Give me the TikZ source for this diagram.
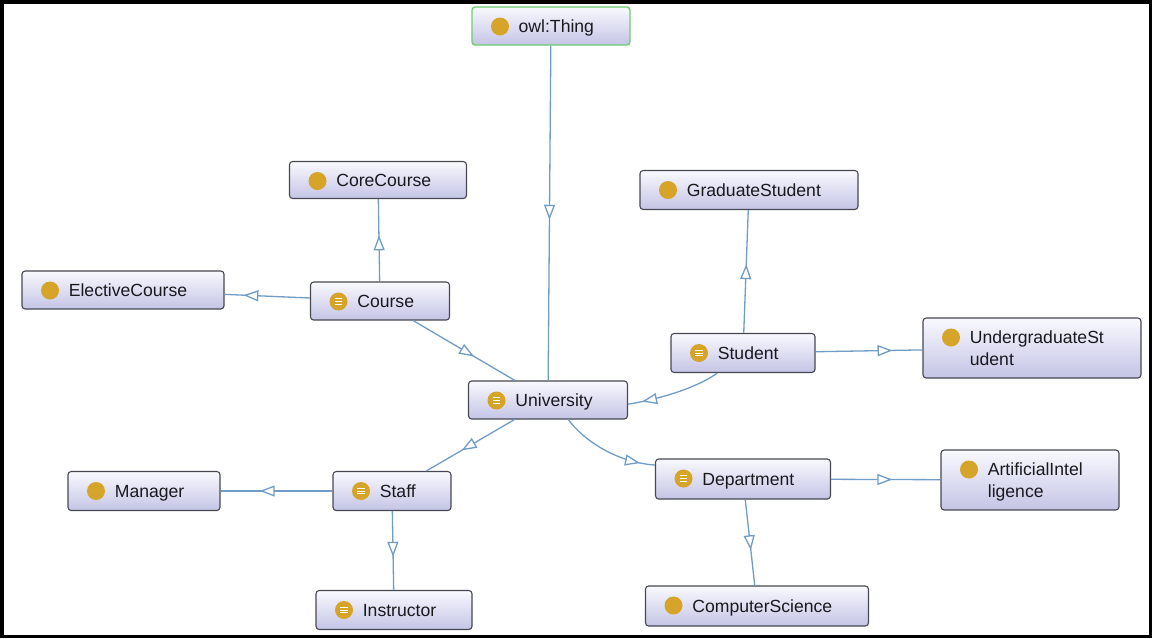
\documentclass[tikz,border=0pt]{standalone}
\usepackage{fontspec}
\setsansfont{Liberation Sans}
\usetikzlibrary{arrows.meta, decorations.markings, positioning}

\definecolor{boxline}{RGB}{72,72,82}
\definecolor{boxtop}{RGB}{249,249,254}
\definecolor{boxbottom}{RGB}{196,196,230}
\definecolor{thingline}{RGB}{110,205,110}
\definecolor{isablue}{RGB}{112,156,200}
\definecolor{gold}{RGB}{214,164,40}
\definecolor{txt}{RGB}{25,25,30}

\tikzset{
  wh/.style 2 args={minimum width=#1*0.5pt, minimum height=#2*0.5pt},
  clstext/.style={anchor=west, xshift=23.5pt, inner sep=0pt, align=left,
    text=txt, text depth=0pt, font=\sffamily\fontsize{8.8}{11}\selectfont},
  cls/.style={draw=boxline, line width=0.55pt, rounded corners=1.6pt,
    top color=boxtop, bottom color=boxbottom, inner sep=0pt,
    path picture={\fill[gold] ([xshift=14pt,yshift=-9.75pt]path picture bounding box.north west) circle (4.5pt);}},
  eqcls/.style={cls,
    path picture={\fill[gold] ([xshift=14pt,yshift=-9.75pt]path picture bounding box.north west) circle (4.5pt);
      \foreach \dy in {8.4,9.75,11.1}
        \draw[white, line width=0.5pt] ([xshift=12.2pt,yshift=-\dy pt]path picture bounding box.north west)
          -- ([xshift=15.8pt,yshift=-\dy pt]path picture bounding box.north west);}},
  isa/.style={color=isablue, line width=0.65pt,
    decoration={markings, mark=at position #1 with {\arrow{Triangle[length=7.5pt, width=5.5pt, fill=white]}}},
    postaction={decorate}}
}

\begin{document}
\begin{tikzpicture}[x=0.5pt, y=-0.5pt]

\useasboundingbox (0,0) rectangle (1152,638);
\fill[white] (0,0) rectangle (1152,638);
\draw[line width=1.75pt] (1.75,1.75) rectangle (1150.25,636.25);

% classes
\node[cls, wh={158}{38}, draw=thingline, line width=0.7pt, label={[clstext]west:{owl:Thing}}] (thing) at (551,26) {};
\node[cls, wh={177}{37}, label={[clstext]west:CoreCourse}] (corecourse) at (378,180) {};
\node[cls, wh={202}{38}, label={[clstext]west:ElectiveCourse}] (elective) at (123,290) {};
\node[eqcls, wh={139}{38}, label={[clstext]west:Course}] (course) at (380,301) {};
\node[cls, wh={218}{39}, label={[clstext]west:GraduateStudent}] (graduate) at (749,190) {};
\node[eqcls, wh={144}{39}, label={[clstext]west:Student}] (student) at (743,353) {};
\node[cls, wh={218}{60}, label={[clstext]west:{UndergraduateSt\\udent}}] (undergrad) at (1032,348) {};
\node[eqcls, wh={159}{38}, label={[clstext]west:University}] (university) at (548,400) {};
\node[eqcls, wh={175}{40}, label={[clstext]west:Department}] (department) at (743,479) {};
\node[cls, wh={178}{60}, label={[clstext]west:{ArtificialIntel\\ligence}}] (ai) at (1030,480) {};
\node[cls, wh={152}{39}, label={[clstext]west:Manager}] (manager) at (144,491) {};
\node[eqcls, wh={118}{39}, label={[clstext]west:Staff}] (staff) at (392,491) {};
\node[eqcls, wh={156}{39}, label={[clstext]west:Instructor}] (instructor) at (394,610) {};
\node[cls, wh={223}{40}, label={[clstext]west:ComputerScience}] (cs) at (757,606) {};

% from owl:Thing down to University
\draw[isa=0.52] (thing) -- (university);
% around Course
\draw[isa=0.56] (course) -- (corecourse);
\draw[isa=0.78] (course) -- (elective);
\draw[isa=0.6] (course) -- (university);
% around Student
\draw[isa=0.56] (student) -- (graduate);
\draw[isa=0.72] (student) -- (undergrad);
\draw[isa=0.85] (student.218) .. controls +(-18,13) and +(37,-6) .. (university.357);
% around University
\draw[isa=0.6] (university) -- (staff);
\draw[isa=0.85] (university.316) .. controls +(15,20) and +(-40,-3) .. (department.171);
% around Staff
\draw[isa=0.65] (staff) -- (manager);
\draw[isa=0.58] (staff) -- (instructor);
% around Department
\draw[isa=0.56] (department) -- (ai);
\draw[isa=0.59] (department) -- (cs);
\end{tikzpicture}
\end{document}
